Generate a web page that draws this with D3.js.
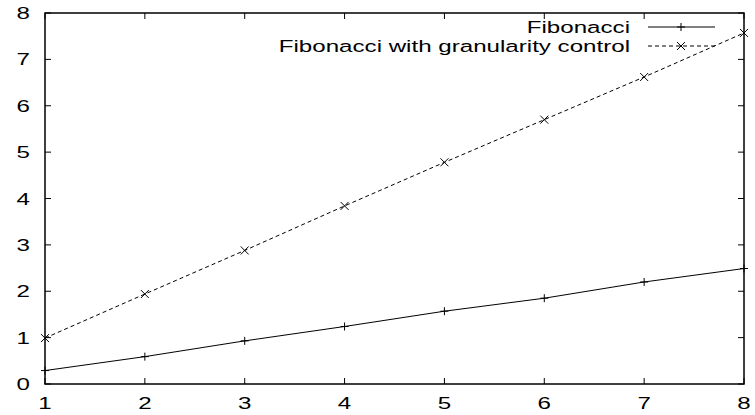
<!DOCTYPE html>
<html><head><meta charset="utf-8">
<script src="https://cdn.jsdelivr.net/npm/d3@7"></script>
<style>body{margin:0;background:#fff}svg{display:block}text{font-family:"Liberation Sans",Arial,Helvetica,sans-serif;fill:#000}</style>
</head><body>
<script>
const xValues = [1,2,3,4,5,6,7,8];
const fib = [0.29,0.59,0.93,1.24,1.57,1.85,2.20,2.49];
const fibGran = [0.99,1.94,2.88,3.84,4.78,5.70,6.62,7.57];
const xTicks = [1,2,3,4,5,6,7,8];
const yTicks = [0,1,2,3,4,5,6,7,8];
const seriesNames = ["Fibonacci","Fibonacci with granularity control"];

const W=755,H=415, L=45,R=744,T=13,B=384;
const SX=1.42, FS=17;
const svg=d3.select("body").append("svg").attr("width",W).attr("height",H);
const x=d3.scaleLinear().domain([1,8]).range([L,R]);
const y=d3.scaleLinear().domain([0,8]).range([B,T]);

function txt(px,py,s,anchor){
  const g=svg.append("g").attr("transform",`translate(${px},${py}) scale(${SX},1)`);
  g.append("text").attr("text-anchor",anchor).attr("dominant-baseline","central").style("font-size",FS+"px").text(s);
}

// ticks (mirrored, inward)
const tl=6;
xTicks.forEach(v=>{
  svg.append("line").attr("x1",x(v)).attr("x2",x(v)).attr("y1",B).attr("y2",B-tl).attr("stroke","#000");
  svg.append("line").attr("x1",x(v)).attr("x2",x(v)).attr("y1",T).attr("y2",T+tl).attr("stroke","#000");
  txt(x(v),403,String(v),"middle");
});
yTicks.forEach(v=>{
  svg.append("line").attr("x1",L).attr("x2",L+tl).attr("y1",y(v)).attr("y2",y(v)).attr("stroke","#000");
  svg.append("line").attr("x1",R).attr("x2",R-tl).attr("y1",y(v)).attr("y2",y(v)).attr("stroke","#000");
  txt(30,y(v),String(v),"end");
});

const line=d3.line().x((d,i)=>x(xValues[i])).y(d=>y(d));
svg.append("path").datum(fib).attr("d",line).attr("fill","none").attr("stroke","#000").attr("stroke-width",1);
svg.append("path").datum(fibGran).attr("d",line).attr("fill","none").attr("stroke","#000").attr("stroke-width",1).attr("stroke-dasharray","4,3");

const m=4;
function plus(cx,cy){svg.append("path").attr("d",`M${cx-m},${cy}H${cx+m}M${cx},${cy-m}V${cy+m}`).attr("stroke","#000").attr("stroke-width",1);}
function cross(cx,cy){svg.append("path").attr("d",`M${cx-m},${cy-m}L${cx+m},${cy+m}M${cx-m},${cy+m}L${cx+m},${cy-m}`).attr("stroke","#000").attr("stroke-width",1);}
fib.forEach((d,i)=>plus(x(xValues[i]),y(d)));
fibGran.forEach((d,i)=>cross(x(xValues[i]),y(d)));

// legend
const ly=[27,46];
txt(630,ly[0],seriesNames[0],"end");
txt(630,ly[1],seriesNames[1],"end");
svg.append("line").attr("x1",648).attr("x2",715).attr("y1",ly[0]).attr("y2",ly[0]).attr("stroke","#000");
plus(681,ly[0]);
svg.append("line").attr("x1",648).attr("x2",715).attr("y1",ly[1]).attr("y2",ly[1]).attr("stroke","#000").attr("stroke-dasharray","4,3");
cross(681,ly[1]);

// border
svg.append("rect").attr("x",L).attr("y",T).attr("width",R-L).attr("height",B-T).attr("fill","none").attr("stroke","#000").attr("stroke-width",1.5);
</script>
</body></html>
